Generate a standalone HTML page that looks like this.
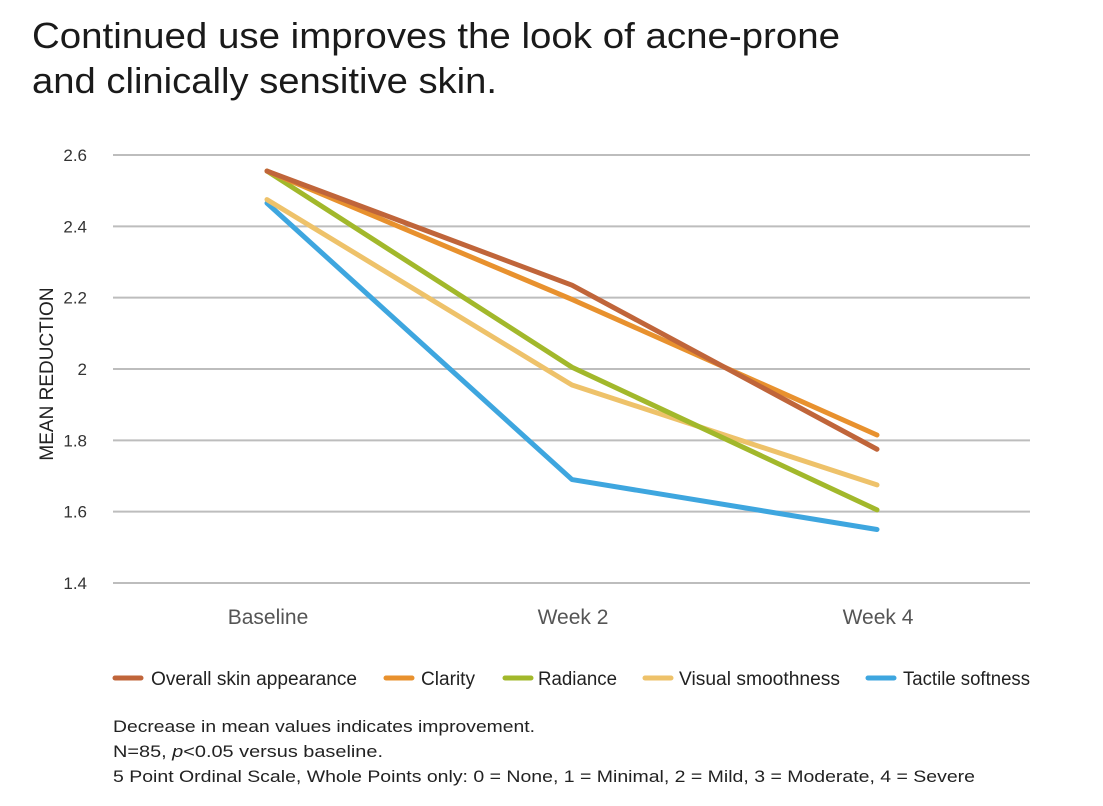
<!DOCTYPE html>
<html><head><meta charset="utf-8"><style>
body{margin:0;background:#fff;width:1103px;height:801px;overflow:hidden;font-family:"Liberation Sans",sans-serif;color:#222}
svg text{font-family:"Liberation Sans",sans-serif}
</style></head><body>
<svg width="1103" height="801">
<text x="32" y="48" font-size="36" fill="#1a1a1a" textLength="808" lengthAdjust="spacingAndGlyphs">Continued use improves the look of acne-prone</text>
<text x="32" y="93" font-size="36" fill="#1a1a1a" textLength="465" lengthAdjust="spacingAndGlyphs">and clinically sensitive skin.</text>
<g id="grid"></g><g id="lines"></g>
<text transform="translate(53,374) rotate(-90)" text-anchor="middle" font-size="19" fill="#222">MEAN REDUCTION</text>
<g id="legend"></g>
<text x="113" y="732" font-size="17" fill="#222" textLength="422" lengthAdjust="spacingAndGlyphs">Decrease in mean values indicates improvement.</text>
<text x="113" y="757" font-size="17" fill="#222" textLength="270" lengthAdjust="spacingAndGlyphs">N=85, <tspan font-style="italic">p</tspan>&lt;0.05 versus baseline.</text>
<text x="113" y="782" font-size="17" fill="#222" textLength="862" lengthAdjust="spacingAndGlyphs">5 Point Ordinal Scale, Whole Points only: 0 = None, 1 = Minimal, 2 = Mild, 3 = Moderate, 4 = Severe</text>
</svg>
<script>
const categories=["Baseline","Week 2","Week 4"];
const yTicks=[1.4,1.6,1.8,2,2.2,2.4,2.6];
const seriesNames=["Overall skin appearance","Clarity","Radiance","Visual smoothness","Tactile softness"];
const overall=[2.555,2.235,1.775];
const clarity=[2.555,2.195,1.815];
const radiance=[2.555,2.005,1.605];
const visual=[2.475,1.955,1.675];
const tactile=[2.465,1.69,1.55];
const colors=["#c0653a","#e8912e","#a2b82b","#eec26a","#3ea6df"];
const NS="http://www.w3.org/2000/svg";
const y=v=>583-(v-1.4)/1.2*428;
const x=i=>267+i*305;
const grid=document.getElementById('grid');
yTicks.forEach(t=>{
 const l=document.createElementNS(NS,'line');
 
 
 l.setAttribute('x1',113);l.setAttribute('x2',1030);l.setAttribute('y1',y(t));l.setAttribute('y2',y(t));
 l.setAttribute('stroke','#bdbdbd');l.setAttribute('stroke-width',2);grid.appendChild(l);
 const tx=document.createElementNS(NS,'text');
 
 
 tx.setAttribute('x',87);tx.setAttribute('y',y(t)+6);tx.setAttribute('text-anchor','end');tx.setAttribute('font-size','17');tx.setAttribute('fill','#333');
 tx.textContent=String(t);grid.appendChild(tx);
});
categories.forEach((c,i)=>{
 const tx=document.createElementNS(NS,'text');
 
 
 tx.setAttribute('x',x(i)+1);tx.setAttribute('y',624);tx.setAttribute('text-anchor','middle');tx.setAttribute('font-size','21');tx.setAttribute('fill','#555');
 tx.textContent=c;grid.appendChild(tx);
});
const data=[overall,clarity,radiance,visual,tactile];
const lines=document.getElementById('lines');
[4,3,2,1,0].forEach(s=>{
 const p=document.createElementNS(NS,'polyline');
 
 
 p.setAttribute('points',data[s].map((v,i)=>x(i)+','+y(v)).join(' '));
 p.setAttribute('fill','none');p.setAttribute('stroke',colors[s]);p.setAttribute('stroke-width',5);p.setAttribute('stroke-linecap','round');p.setAttribute('stroke-linejoin','round');
 lines.appendChild(p);
});
const sx=[113,384,503,643,866];
const tx0=[151,421,538,679,903];
const lw=[206,54,79,161,127];
const lg=document.getElementById('legend');
seriesNames.forEach((n,i)=>{
 const l=document.createElementNS(NS,'line');
 
 
 l.setAttribute('x1',sx[i]+2);l.setAttribute('x2',sx[i]+28);l.setAttribute('y1',678);l.setAttribute('y2',678);
 l.setAttribute('stroke',colors[i]);l.setAttribute('stroke-width',5);l.setAttribute('stroke-linecap','round');lg.appendChild(l);
 const t=document.createElementNS(NS,'text');
 
 
 t.setAttribute('x',tx0[i]);t.setAttribute('y',685);t.setAttribute('font-size','19');t.setAttribute('fill','#222');
 t.setAttribute('textLength',lw[i]);t.setAttribute('lengthAdjust','spacingAndGlyphs');
 t.textContent=n;lg.appendChild(t);
});
</script>
</body></html>
